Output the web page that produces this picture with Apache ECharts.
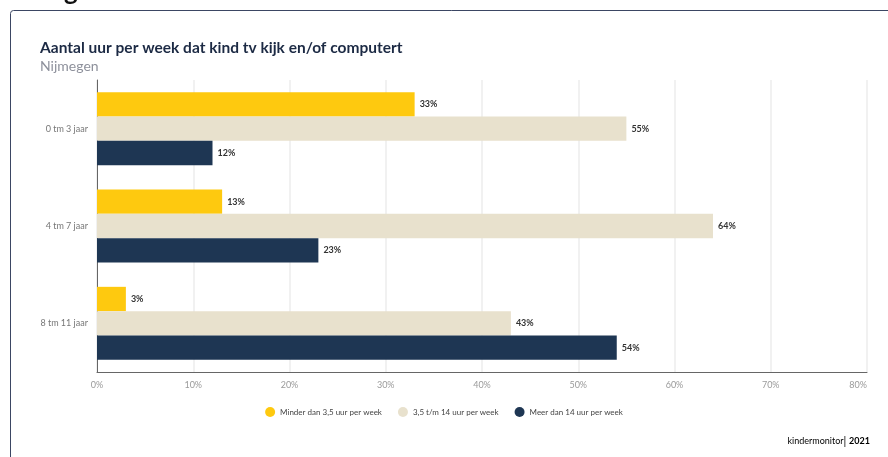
<!DOCTYPE html>
<html>
<head>
<meta charset="utf-8">
<script src="https://cdn.jsdelivr.net/npm/echarts@6/dist/echarts.min.js"></script>
<style>
    html, body { margin: 0; padding: 0; background: #fff; }
    #chart { width: 888px; height: 457px; }
</style>
</head>
<body>
<div id="chart"></div>
<script>
    const categories = ['0 tm 3 jaar', '4 tm 7 jaar', '8 tm 11 jaar']
    const seriesNames = ['Minder dan 3,5 uur per week', '3,5 t/m 14 uur per week', 'Meer dan 14 uur per week']
    const minder = [33, 13, 3]
    const midden = [55, 64, 43]
    const meer = [12, 23, 54]
    const colors = ['#fec90f', '#e8e1cd', '#1e3653']

    const font = 'Lato, "Open Sans", sans-serif'
    const chart = echarts.init(document.getElementById('chart'))

    const label = {
        show: true,
        position: 'right',
        distance: 5,
        formatter: '{c}%',
        fontSize: 9,
        fontWeight: 'bold',
        fontFamily: font,
        color: '#333'
    }

    chart.setOption({
        animation: false,
        color: colors,
        title: {
            text: 'Aantal uur per week dat kind tv kijk en/of computert',
            subtext: 'Nijmegen',
            left: 35,
            top: 35,
            itemGap: 3,
            textStyle: { fontFamily: font, fontSize: 15.5, fontWeight: 'bold', color: '#1c2a44' },
            subtextStyle: { fontFamily: font, fontSize: 14, color: '#8d909b' }
        },
        grid: { left: 97, right: 21, top: 80, bottom: 85 },
        legend: {
            top: 402,
            left: 'center',
            icon: 'circle',
            itemWidth: 10,
            itemHeight: 10,
            itemGap: 16,
            textStyle: { fontFamily: font, fontSize: 8, color: '#444' },
            data: seriesNames
        },
        xAxis: {
            type: 'value',
            min: 0,
            max: 80,
            interval: 10,
            axisLine: { show: true, lineStyle: { color: '#666' } },
            axisTick: { show: false },
            splitLine: { lineStyle: { color: '#ececec', width: 1.5 } },
            axisLabel: { formatter: '{value}%', fontSize: 9, color: '#9a9a9a', margin: 9, fontFamily: font, alignMaxLabel: 'right' }
        },
        yAxis: {
            type: 'category',
            inverse: true,
            data: categories,
            axisLine: { show: true, lineStyle: { color: '#666' } },
            axisTick: { show: false },
            axisLabel: { fontSize: 9, color: '#777', margin: 9, fontFamily: font }
        },
        series: [
            { name: seriesNames[0], type: 'bar', data: minder, barGap: '0%', barCategoryGap: '25%', label: label },
            { name: seriesNames[1], type: 'bar', data: midden, label: label },
            { name: seriesNames[2], type: 'bar', data: meer, label: label }
        ],
        graphic: [
            {
                type: 'rect',
                shape: { x: 10.5, y: 10.5, width: 900, height: 500, r: 3 },
                style: { fill: 'none', stroke: '#3b4663', lineWidth: 1 },
                silent: true
            },
            {
                type: 'text',
                left: 64,
                top: -21,
                style: { text: 'g', font: 'bold 26px ' + font, fill: '#111' }
            },
            {
                type: 'text',
                right: 18,
                top: 436,
                style: {
                    text: '{a|kindermonitor}{b|| }{c|2021}',
                    rich: {
                        a: { fontFamily: font, fontSize: 9, color: '#555' },
                        b: { fontFamily: font, fontSize: 11, color: '#8b2f6e' },
                        c: { fontFamily: font, fontSize: 9, fontWeight: 'bold', color: '#222' }
                    }
                }
            }
        ]
    })
</script>
</body>
</html>
